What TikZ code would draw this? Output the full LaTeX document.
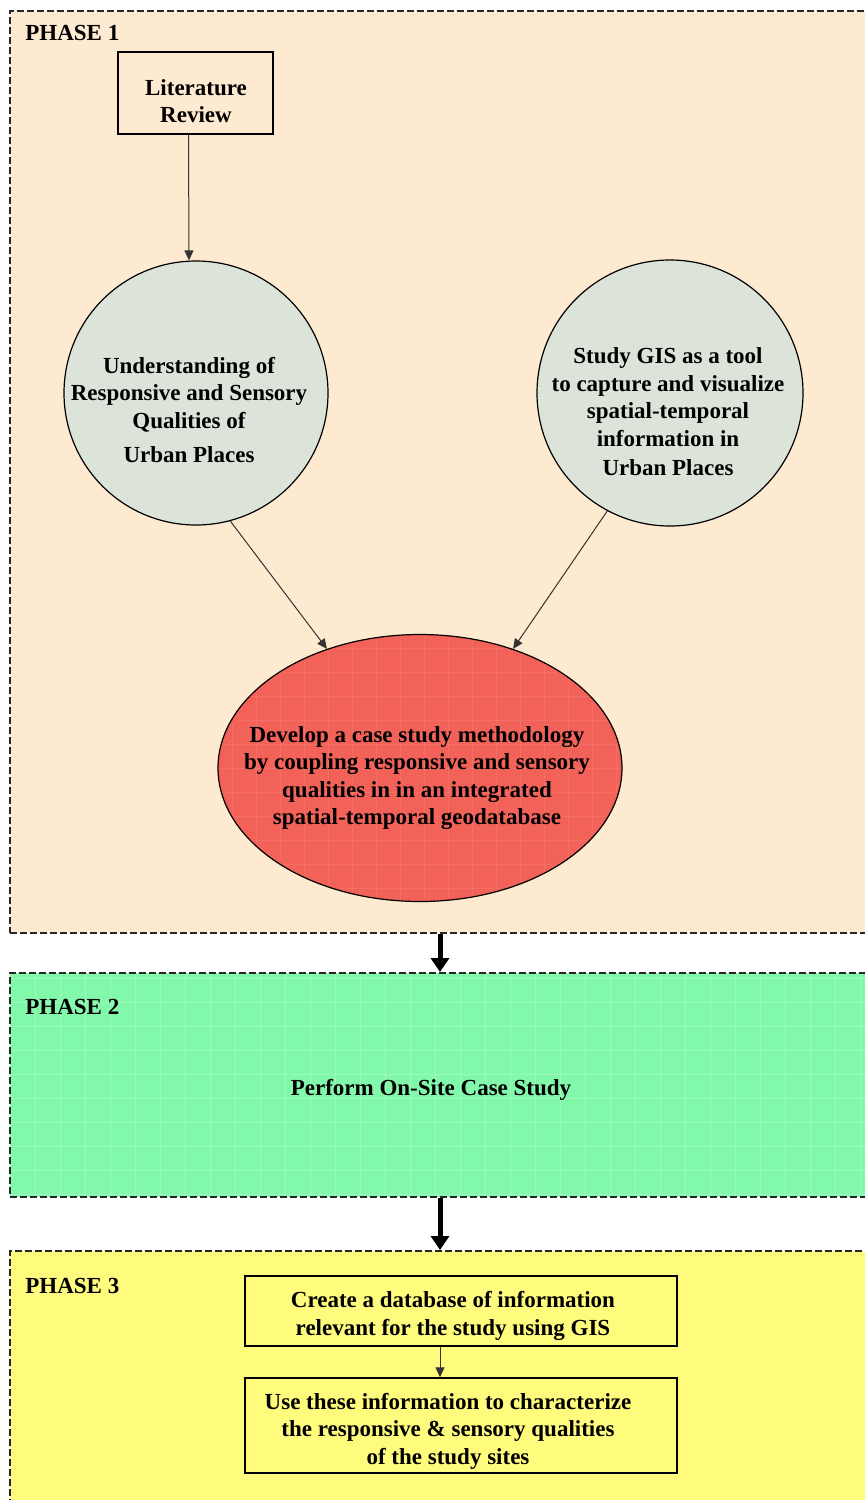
\documentclass[tikz,border=0pt]{standalone}
\usepackage{fontspec}
\setmainfont{Liberation Serif}
\usetikzlibrary{arrows.meta,shapes.geometric}

\definecolor{peach}{RGB}{254,234,208}
\definecolor{sage}{RGB}{220,228,218}
\definecolor{salmon}{RGB}{242,98,88}
\definecolor{mint}{RGB}{130,249,170}
\definecolor{lemon}{RGB}{255,251,125}

\begin{document}
\begin{tikzpicture}[x=0.5pt,y=-0.5pt,
  font=\fontsize{11.5}{13.75}\selectfont\bfseries,
  phase/.style={draw=black!85, line width=0.75pt, dash pattern=on 3.5pt off 1.5pt,
    rectangle, anchor=north west, inner sep=0pt},
  procbox/.style={draw, line width=0.75pt, rectangle, inner sep=0pt},
  bubble/.style={circle, draw, line width=0.6pt, fill=sage, inner sep=0pt},
  label/.style={align=center, inner sep=0pt},
  thinarrow/.style={draw=black!80, line width=0.5pt, -{Triangle[length=5pt,width=4.5pt]}},
  bigarrow/.style={line width=2.5pt, -{Triangle[length=7pt,width=9pt]}},
  gridline/.style={white, opacity=0.22, line width=0.5pt}
]
\useasboundingbox (0,0) rectangle (865,1500);
\clip (0,0) rectangle (865,1500);

\coordinate (ax) at (440,0);

% ---- Phase 1 ----
\node[phase, fill=peach, minimum width=435.5pt, minimum height=461pt] (p1) at (9,10) {};
\node[anchor=west, inner sep=0pt] (ph1) at (25,33) {PHASE 1};

\node[procbox, fill=peach, minimum width=77.5pt, minimum height=41pt] (lit) at (195.5,93) {};
\node[label] (littext) at (196,101) {Literature\\Review};

\node[bubble, minimum size=132pt] (L) at (196,393) {};
\node[label] (Ltext) at (189,410) {Understanding of\\Responsive and Sensory\\Qualities of\\[3.5pt]Urban Places};

\node[bubble, minimum size=133pt] (R) at (670,393) {};
\node[label] (Rtext) at (668,412) {Study GIS as a tool\\to capture and visualize\\spatial-temporal\\information in\\[1pt]Urban Places};

\node[ellipse, draw, line width=0.6pt, fill=salmon, minimum width=202pt,
      minimum height=133.5pt, inner sep=0pt] (E) at (420,768) {};
\begin{scope}
  \clip (420,768) ellipse [x radius=200, y radius=131];
  \foreach \gx in {232,256,...,620} \draw[gridline, opacity=0.08] (\gx,630) -- (\gx,905);
  \foreach \gy in {648,672,...,900} \draw[gridline, opacity=0.08] (215,\gy) -- (625,\gy);
\end{scope}
\node[label] (Etext) at (417,778) {Develop a case study methodology\\by coupling responsive and sensory\\qualities in in an integrated\\spatial-temporal geodatabase};

\draw[thinarrow] ([xshift=-3.5pt]lit.south) -- ([xshift=-3.5pt]L.north);
\draw[thinarrow] (L.-75) -- (E.128);
\draw[thinarrow] (R.-118) -- (E.52);

% ---- Phase 2 ----
\node[phase, fill=mint, minimum width=435.5pt, minimum height=112pt] (p2) at (9,972) {};
\begin{scope}
  \clip (10,973) rectangle (880,1195);
  \foreach \gx in {35,60,...,880} \draw[gridline] (\gx,972) -- (\gx,1196);
  \foreach \gy in {978,1002,...,1196} \draw[gridline] (9,\gy) -- (880,\gy);
\end{scope}
\node[phase, minimum width=435.5pt, minimum height=112pt] (p2b) at (9,972) {};
\node[anchor=west, inner sep=0pt] (ph2) at (25,1007) {PHASE 2};
\node[label] (onsite) at (431,1090) {Perform On-Site Case Study};

% ---- Phase 3 ----
\node[phase, fill=lemon, minimum width=435.5pt, minimum height=140pt] (p3) at (9,1250) {};
\node[anchor=west, inner sep=0pt] (ph3) at (25,1286) {PHASE 3};

\node[procbox, minimum width=216pt, minimum height=35pt] (b1) at (461,1311) {};
\node[label] (b1text) at (453,1316) {Create a database of information\\relevant for the study using GIS};

\node[procbox, minimum width=216pt, minimum height=47.5pt] (b2) at (461,1425.5) {};
\node[label] (b2text) at (448,1431) {Use these information to characterize\\the responsive \& sensory qualities\\of the study sites};

\draw[thinarrow] (b1.south -| ax) -- (b2.north -| ax);

% ---- links between phases ----
\draw[bigarrow] (p1.south -| ax) -- (p2.north -| ax);
\draw[bigarrow] (p2.south -| ax) -- (p3.north -| ax);
\end{tikzpicture}
\end{document}
